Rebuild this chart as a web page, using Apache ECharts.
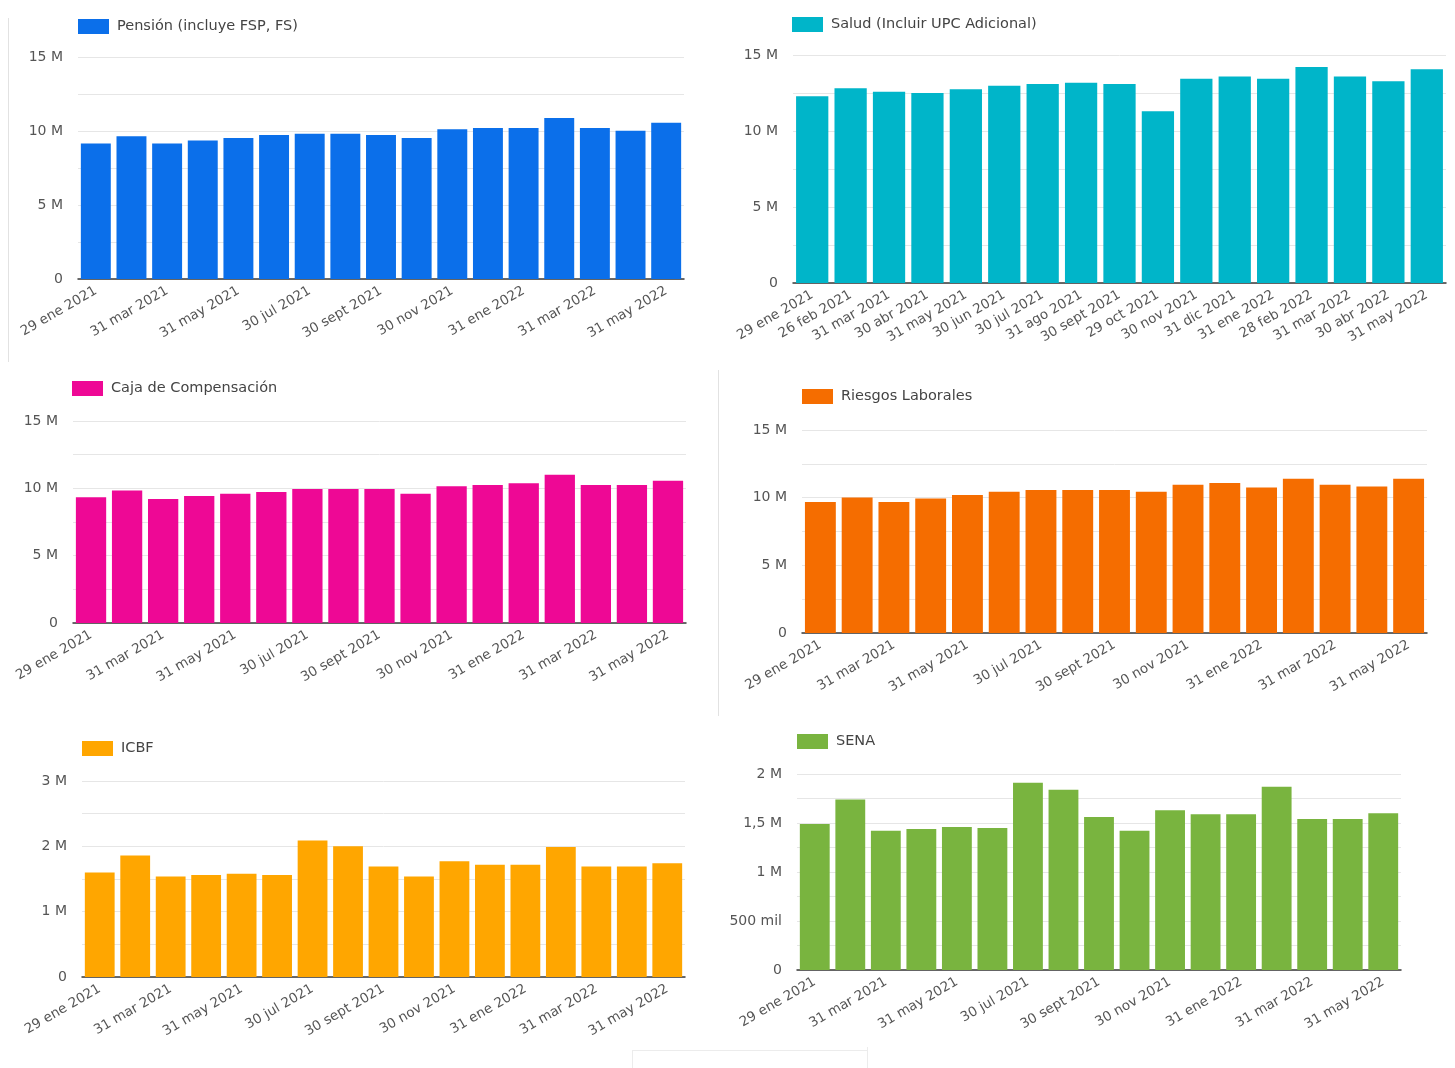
<!DOCTYPE html>
<html>
<head>
<meta charset="utf-8">
<script src="https://cdn.jsdelivr.net/npm/echarts@6/dist/echarts.min.js"></script>
<style>
  html, body { margin: 0; padding: 0; background: #fff; }
  #chart { width: 1455px; height: 1068px; }
</style>
</head>
<body>
<div id="chart"></div>
<script>
// ---- Data ----
const categories = [
  '29 ene 2021', '26 feb 2021', '31 mar 2021', '30 abr 2021', '31 may 2021', '30 jun 2021',
  '30 jul 2021', '31 ago 2021', '30 sept 2021', '29 oct 2021', '30 nov 2021', '31 dic 2021',
  '31 ene 2022', '28 feb 2022', '31 mar 2022', '30 abr 2022', '31 may 2022'
];
const pension = [9.15e6, 9.64e6, 9.15e6, 9.35e6, 9.53e6, 9.73e6, 9.82e6, 9.82e6, 9.73e6, 9.53e6, 10.11e6, 10.2e6, 10.2e6, 10.87e6, 10.2e6, 10.02e6, 10.56e6];
const salud = [12.28e6, 12.81e6, 12.59e6, 12.5e6, 12.74e6, 12.98e6, 13.09e6, 13.18e6, 13.09e6, 11.3e6, 13.44e6, 13.58e6, 13.44e6, 14.21e6, 13.58e6, 13.27e6, 14.06e6];
const caja = [9.33e6, 9.83e6, 9.2e6, 9.43e6, 9.6e6, 9.73e6, 9.95e6, 9.95e6, 9.95e6, 9.6e6, 10.15e6, 10.25e6, 10.37e6, 11.0e6, 10.25e6, 10.25e6, 10.57e6];
const riesgos = [9.68e6, 10.02e6, 9.68e6, 9.93e6, 10.2e6, 10.44e6, 10.56e6, 10.56e6, 10.56e6, 10.44e6, 10.96e6, 11.08e6, 10.76e6, 11.4e6, 10.96e6, 10.83e6, 11.4e6];
const icbf = [1.60e6, 1.86e6, 1.54e6, 1.56e6, 1.58e6, 1.56e6, 2.09e6, 2.0e6, 1.69e6, 1.54e6, 1.77e6, 1.72e6, 1.72e6, 1.99e6, 1.69e6, 1.69e6, 1.74e6];
const sena = [1.49e6, 1.74e6, 1.42e6, 1.44e6, 1.46e6, 1.45e6, 1.91e6, 1.84e6, 1.56e6, 1.42e6, 1.63e6, 1.59e6, 1.59e6, 1.87e6, 1.54e6, 1.54e6, 1.60e6];

const seriesNames = ['Pensión (incluye FSP, FS)', 'Salud (Incluir UPC Adicional)', 'Caja de Compensación', 'Riesgos Laborales', 'ICBF', 'SENA'];
const seriesData = [pension, salud, caja, riesgos, icbf, sena];
const colors = ['#0b6fea', '#00b5c9', '#ee0895', '#f56d00', '#ffa600', '#79b43f'];

// ---- Layout (pixels) ----
const panels = [
  { grid: { left: 78, top: 57, width: 606, height: 222 }, legend: { left: 78, top: 19 }, max: 15e6, step: 2.5e6, labelStep: 5e6, xInterval: 1 },
  { grid: { left: 793, top: 55, width: 653, height: 228 }, legend: { left: 792, top: 17 }, max: 15e6, step: 2.5e6, labelStep: 5e6, xInterval: 0 },
  { grid: { left: 73, top: 421, width: 613, height: 202 }, legend: { left: 72, top: 381 }, max: 15e6, step: 2.5e6, labelStep: 5e6, xInterval: 1 },
  { grid: { left: 802, top: 430, width: 625, height: 203 }, legend: { left: 802, top: 389 }, max: 15e6, step: 2.5e6, labelStep: 5e6, xInterval: 1 },
  { grid: { left: 82, top: 781, width: 603, height: 196 }, legend: { left: 82, top: 741 }, max: 3e6, step: 0.5e6, labelStep: 1e6, xInterval: 1 },
  { grid: { left: 797, top: 774, width: 604, height: 196 }, legend: { left: 797, top: 734 }, max: 2e6, step: 0.25e6, labelStep: 0.5e6, xInterval: 1 }
];

function fmtVal(v) {
  if (v === 0) return '0';
  if (v >= 1e6) return String(v / 1e6).replace('.', ',') + ' M';
  return String(v / 1e3) + ' mil';
}

const FONT = '"DejaVu Sans", Roboto, sans-serif';
const grid = [], xAxis = [], yAxis = [], series = [], legend = [];
panels.forEach((p, i) => {
  grid.push(Object.assign({ containLabel: false }, p.grid));
  legend.push({
    left: p.legend.left, top: p.legend.top, padding: 0,
    data: [seriesNames[i]],
    itemWidth: 31, itemHeight: 15, itemGap: 8,
    icon: 'rect',
    textStyle: { fontFamily: FONT, fontSize: 14.5, color: '#444', padding: [0, 0, 0, 3] },
    selectedMode: false
  });
  xAxis.push({
    type: 'category', gridIndex: i, data: categories,
    axisTick: { show: false },
    axisLine: { lineStyle: { color: '#3a3a3a', width: 1.5 } },
    axisLabel: { interval: p.xInterval, rotate: 30, margin: 11, fontFamily: FONT, fontSize: 13.5, color: '#555' }
  });
  const labelStep = p.labelStep;
  yAxis.push({
    type: 'value', gridIndex: i, min: 0, max: p.max, interval: p.step,
    axisLine: { show: false }, axisTick: { show: false },
    splitLine: { lineStyle: { color: '#e6e6e6', width: 1 } },
    axisLabel: {
      margin: 15, fontFamily: FONT, fontSize: 14, color: '#555',
      formatter: v => (Math.abs(v / labelStep - Math.round(v / labelStep)) < 1e-6 ? fmtVal(v) : '')
    }
  });
  series.push({
    name: seriesNames[i], type: 'bar', xAxisIndex: i, yAxisIndex: i,
    data: seriesData[i], barCategoryGap: '16%',
    itemStyle: { color: colors[i] },
    silent: true
  });
});

const chart = echarts.init(document.getElementById('chart'), null, { renderer: 'canvas' });
chart.setOption({
  animation: false,
  backgroundColor: '#fff',
  grid, xAxis, yAxis, series, legend,
  graphic: [
    { type: 'line', shape: { x1: 8.5, y1: 18, x2: 8.5, y2: 362 }, style: { stroke: '#e2e2e2', lineWidth: 1 } },
    { type: 'line', shape: { x1: 718.5, y1: 370, x2: 718.5, y2: 716 }, style: { stroke: '#e2e2e2', lineWidth: 1 } },
    { type: 'line', shape: { x1: 632, y1: 1050.5, x2: 868, y2: 1050.5 }, style: { stroke: '#ececec', lineWidth: 1 } },
    { type: 'line', shape: { x1: 632.5, y1: 1050, x2: 632.5, y2: 1068 }, style: { stroke: '#ececec', lineWidth: 1 } },
    { type: 'line', shape: { x1: 867.5, y1: 1047, x2: 867.5, y2: 1068 }, style: { stroke: '#ececec', lineWidth: 1 } }
  ]
});
</script>
</body>
</html>
